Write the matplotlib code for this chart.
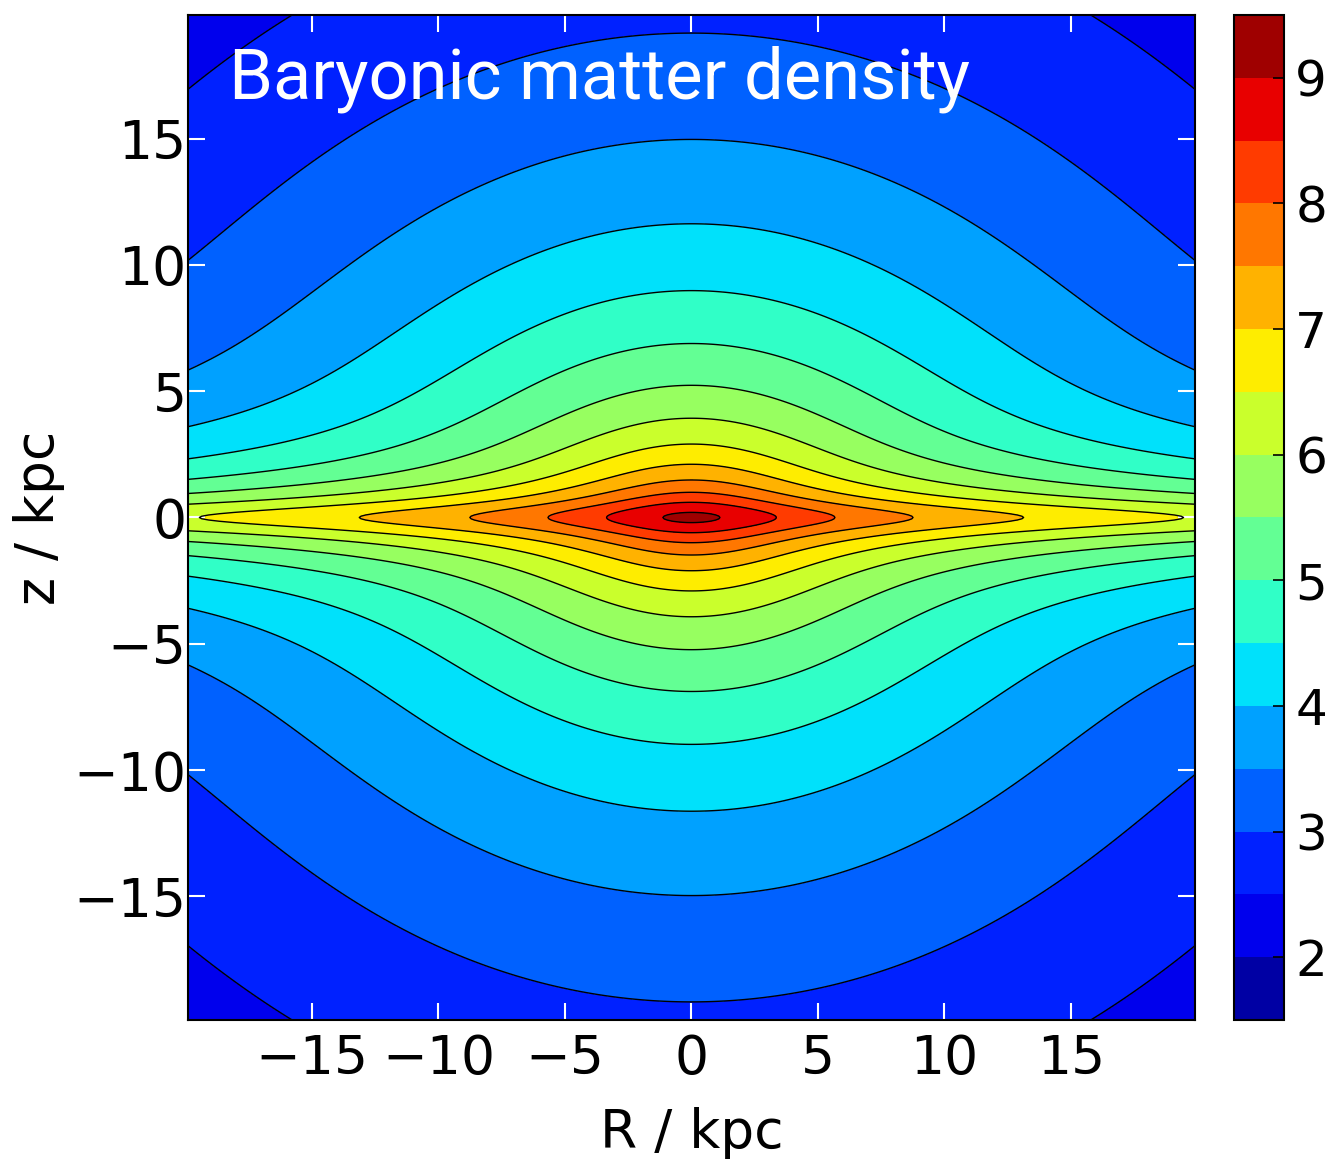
import numpy as np
import matplotlib
matplotlib.use('Agg')
import matplotlib.pyplot as plt

# Miyamoto-Nagai disk parameters, tuned to match the contours
disk_mass = 5.87e10   # Msun
disk_a = 2.6          # kpc
disk_b = 0.51         # kpc

r_lim = 19.9
levels = [1.5, 2.0, 2.5, 3.0, 3.5, 4.0, 4.5, 5.0, 5.5, 6.0, 6.5, 7.0, 7.5, 8.0, 8.5, 9.0, 9.5]
cbar_ticks = [2, 3, 4, 5, 6, 7, 8, 9]
r_ticks = [-15, -10, -5, 0, 5, 10, 15]
z_ticks = [-15, -10, -5, 0, 5, 10, 15]
title = 'Baryonic matter density'


def mn_density(R, z, M, a, b):
    zeta = np.sqrt(z**2 + b**2)
    num = a*R**2 + (a + 3*zeta)*(a + zeta)**2
    den = (R**2 + (a + zeta)**2)**2.5 * zeta**3
    return b**2*M/(4*np.pi) * num/den


def plot():
    fig = plt.figure(figsize=(13.31, 11.62), dpi=100)
    ax = fig.add_axes([0.1412, 0.1222, 0.7566, 0.8649])
    cax = fig.add_axes([0.9271, 0.1222, 0.0376, 0.8649])

    r = np.linspace(-r_lim, r_lim, 801)
    z = np.linspace(-r_lim, r_lim, 801)
    R, Z = np.meshgrid(r, z)
    logrho = np.log10(mn_density(R, Z, disk_mass, disk_a, disk_b))

    cf = ax.contourf(R, Z, logrho, levels=levels, cmap='jet')
    ax.contour(R, Z, logrho, levels=levels, colors='k', linewidths=1.0)

    ax.set_xlim(-r_lim, r_lim)
    ax.set_ylim(-r_lim, r_lim)
    ax.set_xticks(r_ticks)
    ax.set_yticks(z_ticks)
    ax.tick_params(which='both', direction='in', color='white', length=12,
                   width=1.5, top=True, right=True, labelsize=38.5)
    ax.tick_params(axis='x', pad=9)
    ax.tick_params(axis='y', pad=1)
    for s in ax.spines.values():
        s.set_linewidth(1.5)
    ax.set_xlabel('R / kpc', fontsize=38.5, labelpad=16)
    ax.set_ylabel('z / kpc', fontsize=38.5, labelpad=6)

    ax.text(0.0407, 0.9174, title, transform=ax.transAxes, color='white',
            fontsize=50.8, family='Roboto', va='baseline', ha='left')

    cb = fig.colorbar(cf, cax=cax, ticks=cbar_ticks)
    cb.outline.set_linewidth(1.5)
    cax.tick_params(direction='in', color='k', length=8, width=1.2,
                    labelsize=36, pad=8)

    fig.savefig('out.png', dpi=100)


if __name__ == '__main__':
    plot()
